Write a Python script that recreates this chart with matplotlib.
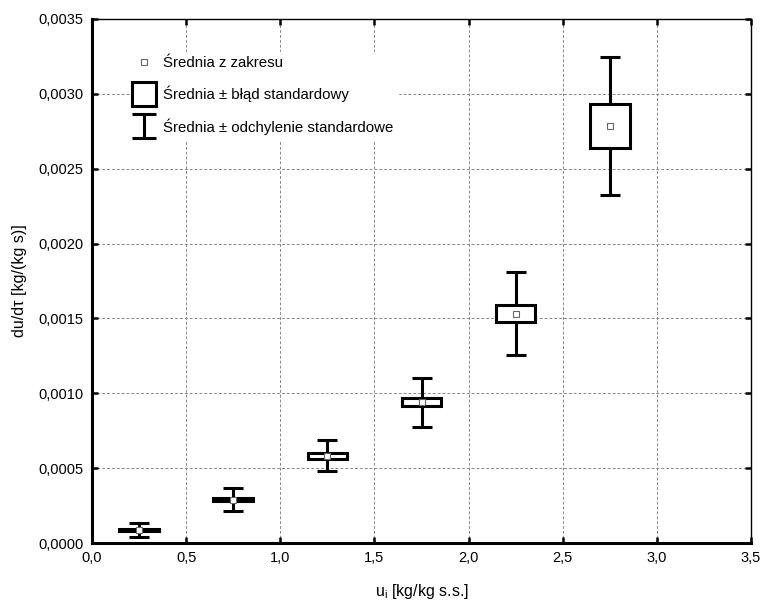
import numpy as np
import matplotlib.pyplot as plt
from matplotlib.patches import Rectangle
from matplotlib.lines import Line2D
from matplotlib.path import Path
from matplotlib.ticker import FuncFormatter, MultipleLocator

plt.rcParams['font.family'] = ['Liberation Sans', 'DejaVu Sans']
plt.rcParams['font.size'] = 10

# u_i classes (middle of range)
x_pos = [0.25, 0.75, 1.25, 1.75, 2.25, 2.75]
means = [0.000085, 0.000290, 0.000583, 0.000940, 0.001532, 0.002787]
se = [0.000008, 0.000012, 0.000019, 0.000027, 0.000058, 0.000147]
sd = [0.000047, 0.000077, 0.000104, 0.000165, 0.000278, 0.000461]

labels = ['Średnia z zakresu',
          'Średnia ± błąd standardowy',
          'Średnia ± odchylenie standardowe']

fig = plt.figure(figsize=(7.63, 6.03), dpi=100)
ax = fig.add_axes([0.1206, 0.0995, 0.8637, 0.869])

box_w = 0.21
for x, m, s, d in zip(x_pos, means, se, sd):
    ax.errorbar(x, m, yerr=d, fmt='none', ecolor='black', elinewidth=2.2,
                capsize=7.5, capthick=2.2, zorder=3)
    ax.add_patch(Rectangle((x - box_w/2, m - s), box_w, 2*s, facecolor='white',
                           edgecolor='black', lw=2.2, zorder=4))
ax.plot(x_pos, means, ls='none', marker='s', ms=4.5, mfc='white', mec='#666666',
        mew=0.8, zorder=5)

ax.set_xlim(0, 3.5)
ax.set_ylim(0, 0.0035)
ax.xaxis.set_major_locator(MultipleLocator(0.5))
ax.yaxis.set_major_locator(MultipleLocator(0.0005))
ax.xaxis.set_major_formatter(FuncFormatter(lambda v, p: f'{v:.1f}'.replace('.', ',')))
ax.yaxis.set_major_formatter(FuncFormatter(lambda v, p: f'{v:.4f}'.replace('.', ',')))
ax.grid(True, color='#888888', ls=(0, (3, 2)), lw=0.7)
ax.set_axisbelow(True)

for side in ['left', 'bottom']:
    ax.spines[side].set_linewidth(2.2)
for side in ['top', 'right']:
    ax.spines[side].set_linewidth(1.0)
ax.tick_params(direction='in', length=4, width=1.8, top=True, right=True,
               pad=6, labelsize=10.5)

ax.set_xlabel('u$_{\\mathregular{i}}$ [kg/kg s.s.]', fontsize=11.5, labelpad=12)
ax.set_ylabel('du/dτ [kg/(kg s)]', fontsize=11.5, labelpad=8)

i_marker = Path([(-1, 1), (1, 1), (0, 1), (0, -1), (-1, -1), (1, -1)],
                [Path.MOVETO, Path.LINETO, Path.MOVETO, Path.LINETO,
                 Path.MOVETO, Path.LINETO])
handles = [
    Line2D([], [], ls='none', marker='s', ms=4.5, mfc='white', mec='#666666', mew=0.8),
    Line2D([], [], ls='none', marker='s', ms=17, mfc='white', mec='black', mew=2.2),
    Line2D([], [], ls='none', marker=i_marker, ms=17, mec='black', mew=2.2),
]
leg = ax.legend(handles, labels, loc='upper left', bbox_to_anchor=(0.047, 0.952),
                frameon=True, fancybox=False, edgecolor='white', framealpha=1,
                handlelength=1.2, handletextpad=0.65, labelspacing=1.05,
                borderpad=0.3, fontsize=10.8)

fig.savefig('out.png', dpi=100)
